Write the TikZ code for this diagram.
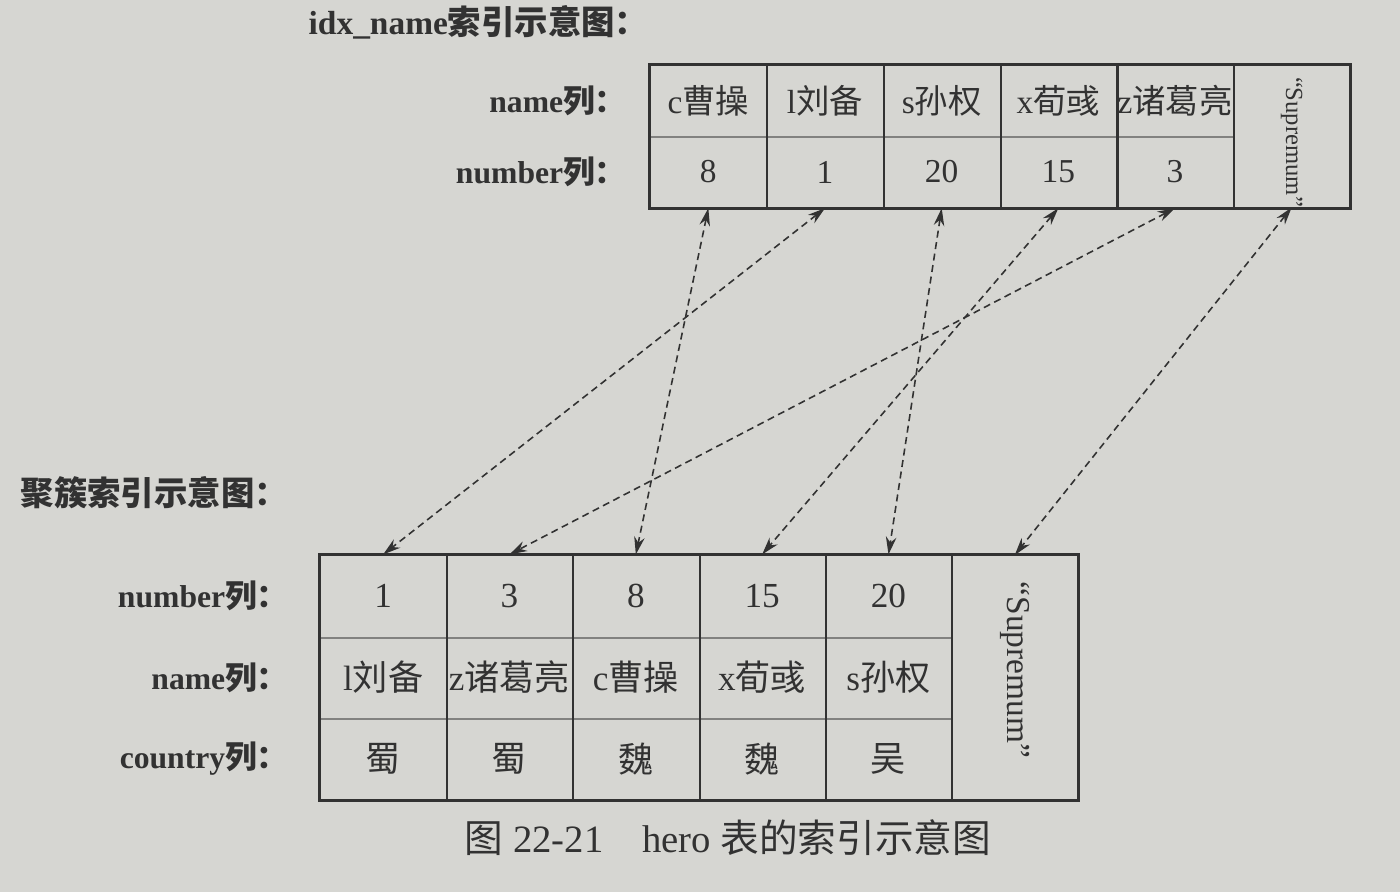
\documentclass[tikz,border=0pt]{standalone}
\usepackage{fontspec}
\usepackage{tikz}
\usetikzlibrary{positioning,arrows.meta}
\setmainfont{Liberation Serif}
\newfontfamily\cjk{Noto Sans CJK SC}
\newcommand{\zh}[1]{{\cjk #1}}
\definecolor{paper}{RGB}{214,214,210}
\definecolor{ink}{RGB}{50,50,50}
\definecolor{rowrule}{RGB}{130,130,128}
\newcommand{\drawframe}{\draw[line width=0.9pt,ink]}
\newcommand{\drawcol}{\draw[line width=0.6pt,ink]}
\newcommand{\drawrow}{\draw[line width=0.6pt,rowrule]}

\begin{document}
\begin{tikzpicture}[x=0.01cm,y=-0.01cm,
    topcell/.style={minimum width=1.167cm,minimum height=0.71cm,inner sep=0pt,text=ink,font=\fontsize{9.5}{12}\selectfont},
    botcell/.style={minimum width=1.263cm,minimum height=0.817cm,inner sep=0pt,text=ink,font=\fontsize{10}{12}\selectfont},
    collabel/.style={text=ink,font=\bfseries\fontsize{9}{11}\selectfont,inner sep=0pt},
    heading/.style={anchor=west,text=ink,font=\bfseries\fontsize{9.5}{11}\selectfont,inner sep=0pt},
    link/.style={{Stealth[length=5pt,width=3pt]}-{Stealth[length=5pt,width=3pt]},ink,line width=0.45pt,dash pattern=on 2pt off 1.3pt}]
\fill[paper] (0,0) rectangle (1400,892);
% idx_name index
\node[heading] (idxhead) at (308,22) {idx\_name\zh{索引示意图：}};
\foreach \n/\k [count=\i] in {c\zh{曹操}/8,l\zh{刘备}/1,s\zh{孙权}/20,x\zh{荀彧}/15,z\zh{诸葛亮}/3}{
    \node[topcell] (tn\i) at ({650+116.67*(\i-.5)},101) {\n};
    \node[topcell] (tk\i) at ({650+116.67*(\i-.5)},172) {\k};
}
\node[inner sep=0pt,text=ink,font=\fontsize{7}{8}\selectfont] (ts) at ({650+116.67*5.5},142) {\rotatebox{-90}{``Supremum''}};
\coordinate (tsb) at ({650+116.67*5.5},207.5);
\drawrow (tn1.south west)--(tn5.south east);
\foreach \i in {1,...,5}{
    \drawcol (tn\i.north east)--(tk\i.south east);
}
\drawframe (tn1.north west) rectangle ([xshift=1.167cm]tk5.south east);
\node[collabel,left=0.22cm of tn1] (tnlab) {name\zh{列：}};
\node[collabel,left=0.22cm of tk1] (tklab) {number\zh{列：}};
% clustered index
\node[heading] (cluhead) at (20,493) {\zh{聚簇索引示意图：}};
\foreach \k/\n/\c [count=\i] in {1/l\zh{刘备}/\zh{蜀},3/z\zh{诸葛亮}/\zh{蜀},8/c\zh{曹操}/\zh{魏},15/x\zh{荀彧}/\zh{魏},20/s\zh{孙权}/\zh{吴}}{
    \node[botcell] (bk\i) at ({320+126.33*(\i-.5)},596) {\k};
    \node[botcell] (bn\i) at ({320+126.33*(\i-.5)},677.5) {\n};
    \node[botcell] (bc\i) at ({320+126.33*(\i-.5)},759) {\c};
}
\node[inner sep=0pt,text=ink,font=\fontsize{9.5}{11}\selectfont] (bs) at ({320+126.33*5.5},670) {\rotatebox{-90}{``Supremum''}};
\coordinate (bst) at ({320+126.33*5.5},555);
\drawrow (bk1.south west)--(bk5.south east);
\drawrow (bn1.south west)--(bn5.south east);
\foreach \i in {1,...,5}{
    \drawcol (bk\i.north east)--(bc\i.south east);
}
\drawframe (bk1.north west) rectangle ([xshift=1.263cm]bc5.south east);
\node[collabel,left=0.3cm of bk1] (bklab) {number\zh{列：}};
\node[collabel,left=0.3cm of bn1] (bnlab) {name\zh{列：}};
\node[collabel,left=0.3cm of bc1] (bclab) {country\zh{列：}};
% links
\foreach \a/\b in {1/3,2/1,3/5,4/4,5/2}{
    \draw[link] (tk\a.south)--(bk\b.north);
}
\draw[link] (tsb)--(bst);
\node[text=ink,font=\fontsize{11}{13}\selectfont] (caption) at (728,838) {\zh{图} 22-21\quad hero \zh{表的索引示意图}};
\end{tikzpicture}
\end{document}
